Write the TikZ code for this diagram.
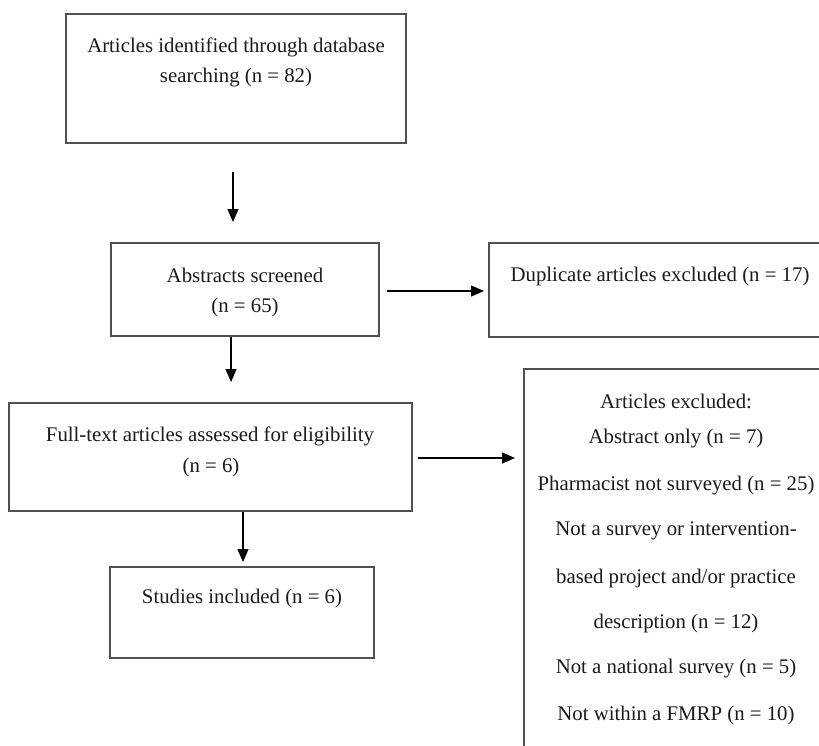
\documentclass[tikz,border=0pt]{standalone}
\usepackage{fontspec}
\setmainfont{Liberation Serif}
\usetikzlibrary{arrows.meta}
\definecolor{boxline}{HTML}{505050}
\definecolor{txt}{HTML}{1A1A1A}
\begin{document}
\begin{tikzpicture}[x=1pt,y=-1pt,
  boxshape/.style={draw=boxline,line width=1.4pt,rectangle,inner sep=0pt},
  lbl/.style={inner sep=0pt,text=txt,font=\fontsize{20.8}{24}\selectfont},
  arr/.style={line width=1.3pt,-{Triangle[length=13pt,width=11pt]}}]
\useasboundingbox (0,0) rectangle (819,745);
\clip (0,0) rectangle (819,745);
\fill[white] (0,0) rectangle (819,745);
% boxes
\node[boxshape,minimum width=340pt,minimum height=129pt] (b1) at (236,78.5) {};
\node[boxshape,minimum width=268pt,minimum height=93pt] (b2) at (245,289.5) {};
\node[boxshape,minimum width=360pt,minimum height=94pt] (b3) at (669,290) {};
\node[boxshape,minimum width=403pt,minimum height=108pt] (b4) at (210.5,457) {};
\node[boxshape,minimum width=264pt,minimum height=91pt] (b5) at (242,612.5) {};
\node[boxshape,minimum width=320pt,minimum height=400pt] (b6) at (684,569) {};
% texts
\node[lbl] (t1a) at (236,47) {Articles identified through database};
\node[lbl] (t1b) at (236,78) {searching (n = 82)};
\node[lbl] (t2a) at (245,275) {Abstracts screened};
\node[lbl] (t2b) at (245,307) {(n = 65)};
\node[lbl] (t3) at (660,276) {Duplicate articles excluded (n = 17)};
\node[lbl] (t4a) at (210,436) {Full-text articles assessed for eligibility};
\node[lbl] (t4b) at (211,467) {(n = 6)};
\node[lbl] (t5) at (242,598) {Studies included (n = 6)};
\node[lbl] (r1) at (676,401) {Articles excluded:};
\node[lbl] (r2) at (676,439) {Abstract only (n = 7)};
\node[lbl] (r3) at (676,486) {Pharmacist not surveyed (n = 25)};
\node[lbl] (r4) at (676,531) {Not a survey or intervention-};
\node[lbl] (r5) at (676,578) {based project and/or practice};
\node[lbl] (r6) at (676,623) {description (n = 12)};
\node[lbl] (r7) at (676,669) {Not a national survey (n = 5)};
\node[lbl] (r8) at (676,715) {Not within a FMRP (n = 10)};
% arrow end points
\coordinate (a1s) at (233,172);
\coordinate (a1e) at (233,222);
\coordinate (a2s) at (387,291);
\coordinate (a2e) at (484,291);
\coordinate (a3s) at (231,337);
\coordinate (a3e) at (231,382);
\coordinate (a4s) at (418,458);
\coordinate (a4e) at (515,458);
\coordinate (a5s) at (243,512);
\coordinate (a5e) at (243,562);
\draw[arr] (a1s) -- (a1e);
\draw[arr] (a2s) -- (a2e);
\draw[arr] (a3s) -- (a3e);
\draw[arr] (a4s) -- (a4e);
\draw[arr] (a5s) -- (a5e);
\end{tikzpicture}
\end{document}
